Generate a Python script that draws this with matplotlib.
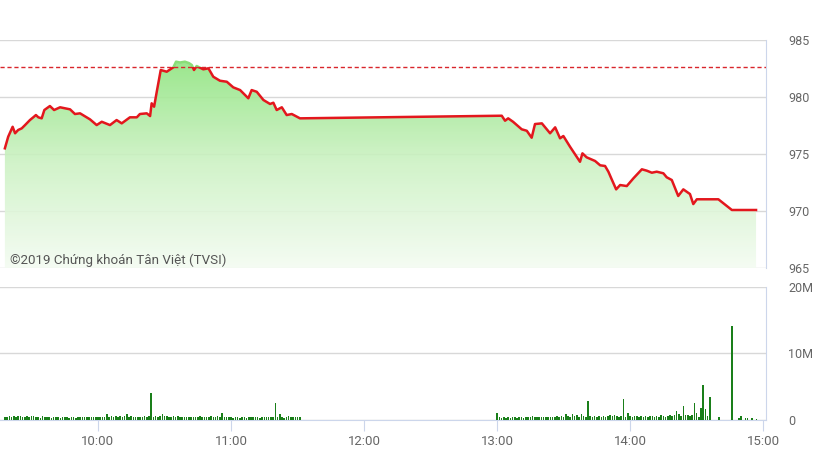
import numpy as np
import pandas as pd
import matplotlib.pyplot as plt
from matplotlib.patches import Rectangle
from matplotlib.colors import LinearSegmentedColormap

plt.rcParams['font.family'] = ['Roboto', 'DejaVu Sans']

# Giá tham chiếu
ref_price = 982.65

# Diễn biến chỉ số trong phiên
line_times = [
    "09:18:00", "09:19:30", "09:21:30", "09:22:36", "09:24:00", "09:25:36", "09:27:06", "09:29:18",
    "09:30:48", "09:32:00", "09:33:06", "09:34:36", "09:35:48", "09:38:18", "09:40:12", "09:42:54",
    "09:47:24", "09:49:36", "09:51:54", "09:56:24", "09:59:24", "10:01:42", "10:05:24", "10:08:24",
    "10:10:42", "10:14:24", "10:17:30", "10:18:54", "10:22:00", "10:23:30", "10:24:12", "10:25:18",
    "10:26:30", "10:28:18", "10:31:00", "10:34:00", "10:35:12", "10:37:00", "10:39:12", "10:41:00",
    "10:42:18", "10:43:18", "10:44:30", "10:47:30", "10:49:48", "10:52:00", "10:55:00", "10:58:06",
    "11:01:00", "11:04:06", "11:07:48", "11:09:18", "11:11:36", "11:14:36", "11:17:36", "11:19:06",
    "11:20:36", "11:22:54", "11:25:06", "11:27:24", "11:31:06", "13:02:06", "13:03:36", "13:05:00",
    "13:07:12", "13:11:06", "13:13:24", "13:15:36", "13:17:06", "13:20:12", "13:23:54", "13:26:12",
    "13:28:24", "13:29:54", "13:32:54", "13:35:54", "13:37:24", "13:38:30", "13:40:24", "13:44:12",
    "13:46:30", "13:48:42", "13:50:12", "13:51:42", "13:53:42", "13:55:30", "13:58:30", "14:01:30",
    "14:05:18", "14:07:30", "14:09:48", "14:12:00", "14:15:00", "14:16:30", "14:18:48", "14:21:42",
    "14:24:00", "14:27:00", "14:28:30", "14:30:06", "14:39:48", "14:45:54", "14:56:48",
]
line_prices = [
    975.50, 976.52, 977.39, 976.82, 977.11, 977.25, 977.54, 977.98,
    978.22, 978.42, 978.22, 978.13, 978.86, 979.21, 978.86, 979.10,
    978.92, 978.51, 978.57, 978.04, 977.54, 977.83, 977.54, 977.98,
    977.69, 978.22, 978.22, 978.51, 978.57, 978.33, 979.45, 979.15,
    980.46, 982.37, 982.22, 982.61, 983.10, 983.03, 983.10, 982.98,
    982.81, 982.37, 982.72, 982.43, 982.52, 981.78, 981.43, 981.34,
    980.85, 980.61, 979.89, 980.61, 980.46, 979.74, 979.39, 979.50,
    978.86, 979.10, 978.42, 978.51, 978.13, 978.36, 977.92, 978.13,
    977.83, 977.17, 977.04, 976.43, 977.63, 977.69, 976.82, 977.34,
    976.38, 976.58, 975.64, 974.76, 974.32, 975.06, 974.71, 974.39,
    974.01, 973.95, 973.45, 972.78, 971.90, 972.28, 972.19, 972.87,
    973.66, 973.54, 973.36, 973.45, 973.31, 972.96, 972.72, 971.32,
    971.90, 971.49, 970.61, 971.03, 971.03, 970.09, 970.09,
]

# Khối lượng theo phút (triệu cp)
vol_morning_start = "09:18:00"
vol_morning = [
    0.5, 0.4, 0.6, 0.5, 0.6, 0.4, 0.6, 0.6, 0.5, 0.4,
    0.6, 0.5, 0.6, 0.6, 0.4, 0.5, 0.3, 0.6, 0.4, 0.5,
    0.5, 0.3, 0.5, 0.4, 0.5, 0.3, 0.5, 0.4, 0.4, 0.3,
    0.4, 0.4, 0.3, 0.4, 0.4, 0.5, 0.4, 0.4, 0.5, 0.5,
    0.4, 0.5, 0.4, 0.5, 0.4, 0.5, 0.9, 0.5, 0.6, 0.5,
    0.6, 0.5, 0.6, 0.5, 0.6, 0.9, 0.5, 0.6, 0.4, 0.5,
    0.4, 0.5, 0.4, 0.6, 0.5, 0.6, 4.1, 0.5, 0.6, 0.5,
    0.6, 0.9, 0.6, 0.6, 0.5, 0.5, 0.6, 0.5, 0.6, 0.5,
    0.5, 0.4, 0.5, 0.5, 0.4, 0.5, 0.5, 0.4, 0.6, 0.5,
    0.5, 0.4, 0.5, 0.6, 0.5, 0.5, 0.6, 0.5, 1.1, 0.4,
    0.5, 0.4, 0.5, 0.3, 0.4, 0.4, 0.3, 0.5, 0.4, 0.3,
    0.4, 0.4, 0.5, 0.4, 0.4, 0.3, 0.5, 0.4, 0.5, 0.4,
    0.5, 0.4, 2.5, 0.4, 0.9, 0.4, 0.3, 0.5, 0.6, 0.5,
    0.4, 0.5, 0.5, 0.4,
]
vol_afternoon_start = "13:00:00"
vol_afternoon = [
    1.0, 0.4, 0.3, 0.4, 0.3, 0.4, 0.3, 0.4, 0.4, 0.3,
    0.4, 0.5, 0.3, 0.4, 0.5, 0.4, 0.6, 0.4, 0.5, 0.4,
    0.4, 0.5, 0.4, 0.5, 0.4, 0.5, 0.4, 0.6, 0.5, 0.6,
    0.5, 0.85, 0.6, 0.5, 0.85, 0.6, 0.7, 0.5, 0.9, 0.6,
    0.5, 2.9, 0.6, 0.5, 0.6, 0.5, 0.6, 0.5, 0.6, 0.5,
    0.6, 0.7, 0.6, 0.8, 0.6, 0.5, 0.6, 3.2, 0.5, 1.1,
    0.6, 0.5, 0.6, 0.6, 0.5, 0.6, 0.5, 0.6, 0.5, 0.6,
    0.6, 0.5, 0.6, 0.5, 0.7, 0.6, 0.5, 0.6, 0.7, 0.6,
    0.7, 1.35, 0.9, 0.6, 2.1, 0.8, 0.7, 0.6, 0.7, 2.6,
    1.05, 0.4, 1.8, 5.2, 1.6, 0.6, 3.5,
]
vol_tail_times = ["14:40:00", "14:46:00", "14:49:00", "14:50:00", "14:52:00", "14:53:00", "14:55:00", "14:57:00"]
vol_tail = [0.4, 14.2, 0.3, 0.6, 0.3, 0.3, 0.25, 0.2]

x_labels = ["10:00", "11:00", "12:00", "13:00", "14:00", "15:00"]


def to_min(times):
    return pd.to_timedelta(pd.Series(times)).dt.total_seconds().to_numpy() / 60


x = to_min(line_times)
p = np.array(line_prices)

vx = np.concatenate([
    to_min([vol_morning_start])[0] + np.arange(len(vol_morning)),
    to_min([vol_afternoon_start])[0] + np.arange(len(vol_afternoon)),
    to_min(vol_tail_times),
])
vy = np.array(vol_morning + vol_afternoon + vol_tail)

x0, x1 = 555.8, 901.3
grid_c = '#d8d8d8'
axis_c = '#ccd6eb'
text_c = '#666666'

fig = plt.figure(figsize=(8.15, 4.58), dpi=100)
ax = fig.add_axes([0, 0.4148, 0.9399, 0.4978])
axv = fig.add_axes([0, 0.083, 0.9399, 0.2904])

# Biểu đồ giá
poly = ax.fill_between(x, p, 965, color='none', lw=0)
cmap = LinearSegmentedColormap.from_list('g', ['#f4fcf2', '#cdf2c4', '#8ee47e'])
grad = np.linspace(0, 1, 256).reshape(-1, 1)
im = ax.imshow(grad, extent=[x0, x1, 965, 983.5], origin='lower', aspect='auto',
               cmap=cmap, alpha=0.9, zorder=2)
im.set_clip_path(poly.get_paths()[0], ax.transData)

red, = ax.plot(x, p, color='#e3171d', lw=1.8, zorder=3)
red.set_clip_path(Rectangle((x0, 960), x1 - x0, ref_price - 960, transform=ax.transData))
green, = ax.plot(x, p, color='#8ade78', lw=1.8, zorder=3)
green.set_clip_path(Rectangle((x0, ref_price), x1 - x0, 10, transform=ax.transData))
ax.axhline(ref_price, color='#d9262c', lw=1, ls=(0, (3, 2)), zorder=4)

ax.set_xlim(x0, x1)
ax.set_ylim(965, 985)
ax.set_yticks([965, 970, 975, 980, 985])
ax.yaxis.tick_right()
ax.tick_params(axis='y', length=0, pad=16, labelcolor=text_c, labelsize=9)
ax.set_xticks([])
ax.grid(axis='y', color=grid_c, lw=1, zorder=1)
ax.set_axisbelow(True)
for s in ['left', 'top', 'bottom']:
    ax.spines[s].set_visible(False)
ax.spines['right'].set_color(axis_c)

ax.text(0.013, 0.018, "©2019 Chứng khoán Tân Việt (TVSI)", transform=ax.transAxes,
        fontsize=9.6, color='#555555', va='baseline', zorder=5)

# Biểu đồ khối lượng
axv.bar(vx, vy, width=0.7, color='#1a7f1a', zorder=3)
axv.set_xlim(x0, x1)
axv.set_ylim(0, 20)
axv.set_yticks([0, 10, 20])
axv.set_yticklabels(['0', '10M', '20M'])
axv.yaxis.tick_right()
axv.tick_params(axis='y', length=0, pad=16, labelcolor=text_c, labelsize=9)
axv.set_xticks(to_min([t + ":00" for t in x_labels]))
axv.set_xticklabels(x_labels)
axv.tick_params(axis='x', length=8, color=axis_c, labelcolor=text_c, labelsize=9.5, pad=3)
axv.grid(axis='y', color=grid_c, lw=1, zorder=1)
axv.set_axisbelow(True)
for s in ['left', 'top']:
    axv.spines[s].set_visible(False)
axv.spines['right'].set_color(axis_c)
axv.spines['bottom'].set_color(axis_c)

fig.savefig('out.png', dpi=100)
